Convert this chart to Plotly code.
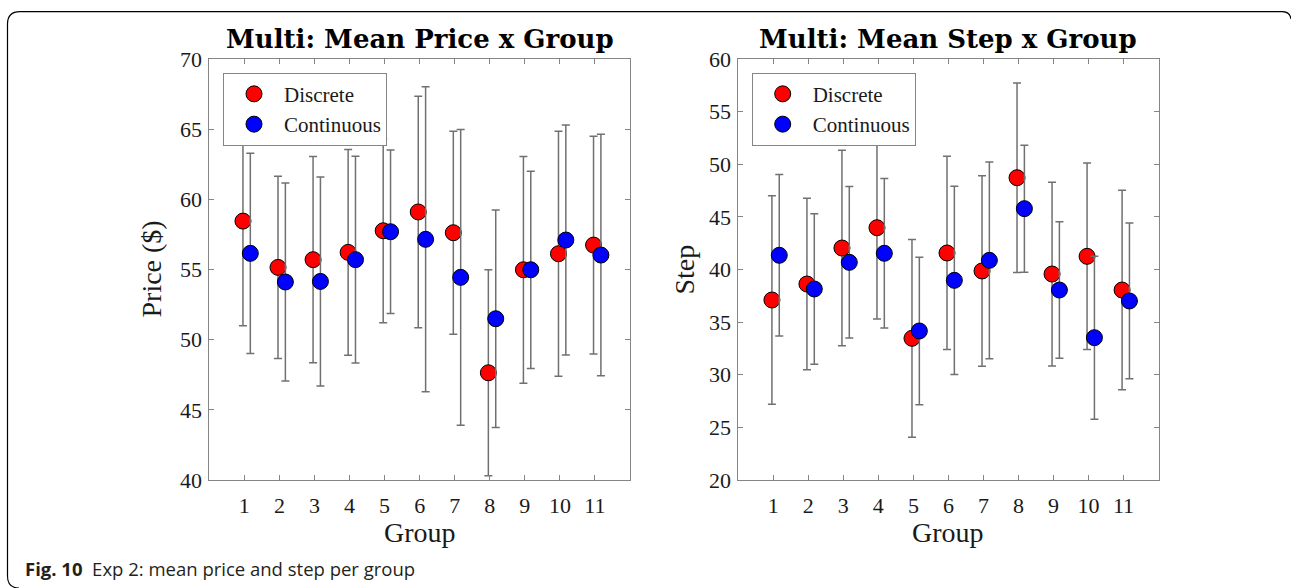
import plotly.graph_objects as go

# ---------------- data ----------------
groups = [1, 2, 3, 4, 5, 6, 7, 8, 9, 10, 11]

price_disc = [58.45, 55.15, 55.70, 56.22, 57.76, 59.10, 57.62, 47.64, 54.98, 56.12, 56.74]
price_disc_sd = [7.46, 6.49, 7.35, 7.33, 6.55, 8.25, 7.23, 7.34, 8.08, 8.73, 7.76]
price_cont = [56.15, 54.11, 54.15, 55.70, 57.69, 57.15, 54.44, 51.49, 54.98, 57.10, 56.03]
price_cont_sd = [7.14, 7.05, 7.45, 7.37, 5.82, 10.87, 10.53, 7.75, 7.03, 8.20, 8.60]

step_disc = [37.10, 38.62, 42.04, 43.97, 33.46, 41.57, 39.86, 48.72, 39.57, 41.25, 38.05]
step_disc_sd = [9.91, 8.15, 9.28, 8.67, 9.39, 9.18, 9.05, 9.01, 8.73, 8.86, 9.47]
step_cont = [41.35, 38.15, 40.68, 41.54, 34.16, 38.97, 40.87, 45.78, 38.05, 33.52, 37.01]
step_cont_sd = [7.67, 7.15, 7.20, 7.10, 7.00, 8.95, 9.35, 6.03, 6.48, 7.75, 7.40]

series_names = ["Discrete", "Continuous"]
titles = ["Multi: Mean Price x Group", "Multi: Mean Step x Group"]
ylabels = ["Price ($)", "Step"]
caption_bold = "Fig. 10"
caption_text = "Exp 2: mean price and step per group"

# ---------------- layout helpers ----------------
W, H = 1291, 588
def px(x):
    return x / W
def py(y):
    return 1 - y / H

SERIF = "Liberation Serif"
TITLE_FONT = "DejaVu Serif"
AX_COL = "#858585"
ERR_COL = "#707070"
TXT_COL = "#1a1a1a"

OFF_D, OFF_C = -0.04, 0.17

fig = go.Figure()

panels = [
    dict(xa="x", ya="y", legend="legend", d=price_disc, dsd=price_disc_sd, c=price_cont, csd=price_cont_sd),
    dict(xa="x2", ya="y2", legend="legend2", d=step_disc, dsd=step_disc_sd, c=step_cont, csd=step_cont_sd),
]

for p in panels:
    fig.add_trace(go.Scatter(
        x=[g + OFF_D for g in groups], y=p["d"], mode="markers", name=series_names[0],
        xaxis=p["xa"], yaxis=p["ya"], legend=p["legend"],
        marker=dict(color="#ff0000", size=16, line=dict(color="black", width=1)),
        error_y=dict(type="data", array=p["dsd"], color=ERR_COL, thickness=1.5, width=4),
    ))
    fig.add_trace(go.Scatter(
        x=[g + OFF_C for g in groups], y=p["c"], mode="markers", name=series_names[1],
        xaxis=p["xa"], yaxis=p["ya"], legend=p["legend"],
        marker=dict(color="#0000ff", size=16, line=dict(color="black", width=1)),
        error_y=dict(type="data", array=p["csd"], color=ERR_COL, thickness=1.5, width=4),
    ))

ydom = [py(480), py(59)]
axcommon = dict(
    showline=True, linecolor=AX_COL, linewidth=1, mirror="ticks",
    ticks="inside", ticklen=5, tickcolor=AX_COL, tickwidth=1,
    showgrid=False, zeroline=False, automargin=False,
    tickfont=dict(family=SERIF, size=22, color=TXT_COL),
)
fig.update_layout(
    xaxis=dict(domain=[px(209.3), px(630)], range=[0, 12], tickvals=groups, anchor="y",
               ticklabelstandoff=6, **axcommon),
    yaxis=dict(domain=ydom, range=[40, 70], dtick=5, anchor="x", ticklabelstandoff=2, **axcommon),
    xaxis2=dict(domain=[px(738.3), px(1158.5)], range=[0, 12], tickvals=groups, anchor="y2",
                ticklabelstandoff=6, **axcommon),
    yaxis2=dict(domain=ydom, range=[20, 60], dtick=5, anchor="x2", ticklabelstandoff=2, **axcommon),
)

legcommon = dict(
    xanchor="left", yanchor="top", bgcolor="white", bordercolor=AX_COL, borderwidth=1,
    font=dict(family=SERIF, size=21, color=TXT_COL), itemsizing="trace",
    tracegroupgap=0, itemwidth=50,
)
fig.update_layout(
    legend=dict(x=px(223), y=py(72.7), **legcommon),
    legend2=dict(x=px(751.7), y=py(72.7), **legcommon),
)

ann = []
centers = [(209.3 + 630) / 2, (738.3 + 1158.5) / 2]
for i in range(2):
    ann.append(dict(x=px(centers[i]), y=py(39), xref="paper", yref="paper", text="<b>" + titles[i] + "</b>",
                    showarrow=False, xanchor="center", yanchor="middle",
                    font=dict(family=TITLE_FONT, size=26, color="black")))
    ann.append(dict(x=px(centers[i]), y=py(532), xref="paper", yref="paper", text="Group",
                    showarrow=False, xanchor="center", yanchor="middle",
                    font=dict(family=SERIF, size=28, color=TXT_COL)))
ann.append(dict(x=px(151), y=py(269.5), xref="paper", yref="paper", text=ylabels[0], textangle=-90,
                showarrow=False, xanchor="center", yanchor="middle",
                font=dict(family=SERIF, size=28, color=TXT_COL)))
ann.append(dict(x=px(684), y=py(269.5), xref="paper", yref="paper", text=ylabels[1], textangle=-90,
                showarrow=False, xanchor="center", yanchor="middle",
                font=dict(family=SERIF, size=28, color=TXT_COL)))
ann.append(dict(x=px(23), y=py(568), xref="paper", yref="paper",
                text="<b>" + caption_bold + "</b>  " + caption_text,
                showarrow=False, xanchor="left", yanchor="middle",
                font=dict(family="Open Sans", size=18.5, color="#231f20")))

# rounded card border (top, left)
pts = [
    ("M", [(1291, 19)]),
    ("Q", [(1290, 11.7), (1282, 11.7)]),
    ("L", [(20, 11.7)]),
    ("Q", [(7.5, 11.7), (7.5, 24)]),
    ("L", [(7.5, 576)]),
    ("Q", [(7.5, 588), (19, 588)]),
]
path = " ".join(c + " " + " ".join(f"{px(x):.5f},{py(y):.5f}" for x, y in ps) for c, ps in pts)

fig.update_layout(
    width=W, height=H, margin=dict(l=0, r=0, t=0, b=0, pad=0, autoexpand=False),
    paper_bgcolor="white", plot_bgcolor="white",
    annotations=ann,
    shapes=[dict(type="path", path=path, xref="paper", yref="paper", line=dict(color="black", width=1.2))],
    showlegend=True,
)

fig.write_html("out.html", config={"displayModeBar": False},
               post_script="document.body.style.margin='0';document.body.style.overflow='hidden';")
